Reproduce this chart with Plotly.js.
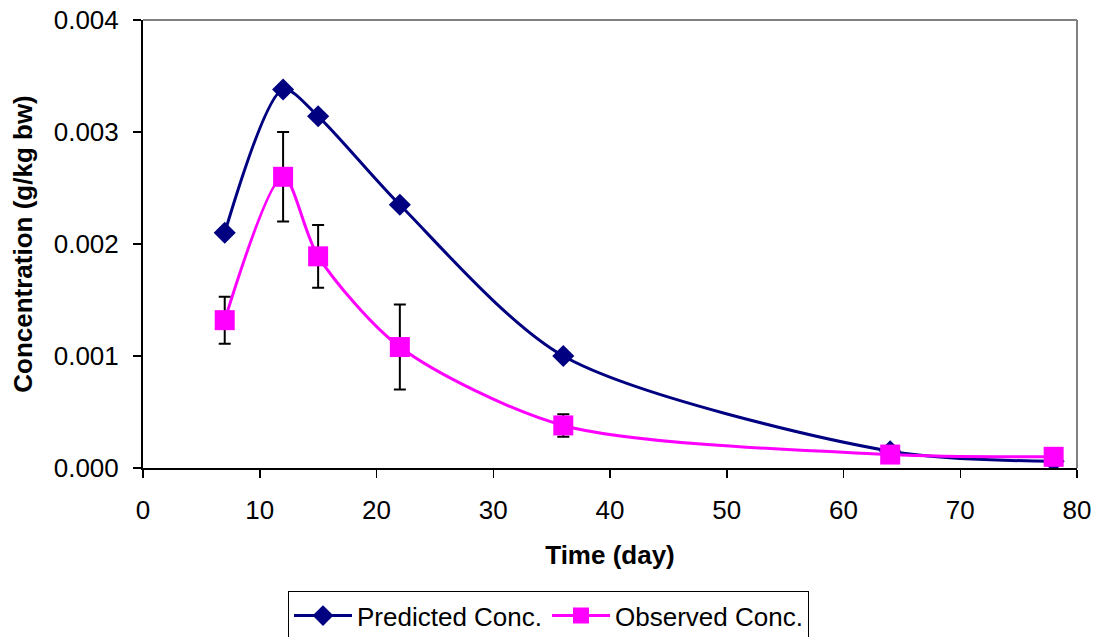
<!DOCTYPE html>
<html>
<head>
<meta charset="utf-8">
<script src="https://cdn.plot.ly/plotly-3.0.1.min.js"></script>
<style>html,body{margin:0;padding:0;background:#fff;}#chart{width:1097px;height:637px;}</style>
</head>
<body>
<div id="chart"></div>
<script>
// Data
const timeDays = [7, 12, 15, 22, 36, 64, 78];
const predictedConc = [0.00210, 0.00338, 0.00314, 0.00235, 0.00100, 0.00015, 0.00006];
const observedConc = [0.00132, 0.00260, 0.00189, 0.00108, 0.00038, 0.00012, 0.00010];
const observedErr = [0.00021, 0.00040, 0.00028, 0.00038, 0.00010, 0.00000, 0.00000];
const xTicks = [0, 10, 20, 30, 40, 50, 60, 70, 80];
const yTicks = [0, 0.001, 0.002, 0.003, 0.004];
const yTickText = ['0.000', '0.001', '0.002', '0.003', '0.004'];

const FONT = 'Liberation Sans, Arial, sans-serif';

const traces = [
  {
    x: timeDays, y: predictedConc, name: 'Predicted Conc.',
    type: 'scatter', mode: 'lines+markers',
    line: {color: '#000080', width: 3, shape: 'spline', smoothing: 0.8},
    marker: {symbol: 'diamond', size: 17, color: '#000080'}
  },
  {
    x: timeDays, y: observedConc, name: 'Observed Conc.',
    type: 'scatter', mode: 'lines+markers',
    line: {color: '#FF00FF', width: 3, shape: 'spline', smoothing: 0.8},
    marker: {symbol: 'square', size: 20, color: '#FF00FF'},
    error_y: {type: 'data', array: observedErr, visible: true, color: '#000000', thickness: 2, width: 6}
  }
];

const layout = {
  width: 1097, height: 637,
  margin: {l: 143, r: 20, t: 20, b: 169, autoexpand: false},
  paper_bgcolor: '#ffffff', plot_bgcolor: '#ffffff',
  font: {family: FONT, color: '#000000', size: 26},
  showlegend: true,
  legend: {
    orientation: 'h', x: (288 - 143) / 934, xanchor: 'left', y: -0.275, yanchor: 'top',
    bordercolor: '#000000', borderwidth: 1, bgcolor: '#ffffff',
    itemwidth: 58,
    font: {family: FONT, size: 26, color: '#000000'}
  },
  xaxis: {
    range: [0, 80], tickmode: 'array', tickvals: xTicks,
    showgrid: false, zeroline: false, automargin: false,
    showline: true, linecolor: '#000000', linewidth: 2,
    ticks: 'outside', ticklen: 8, tickwidth: 1.5, tickcolor: '#000000',
    ticklabelstandoff: 10,
    tickfont: {family: FONT, size: 26, color: '#000000'},
    title: {text: '<b>Time (day)</b>', font: {family: FONT, size: 26, color: '#000000'}, standoff: 22}
  },
  yaxis: {
    range: [0, 0.004], tickmode: 'array', tickvals: yTicks, ticktext: yTickText,
    showgrid: false, zeroline: false, automargin: false,
    showline: true, linecolor: '#000000', linewidth: 2,
    ticks: 'outside', ticklen: 8, tickwidth: 1.5, tickcolor: '#000000',
    ticklabelstandoff: 9,
    tickfont: {family: FONT, size: 26, color: '#000000'},
    title: {text: '<b>Concentration (g/kg bw)</b>', font: {family: FONT, size: 26, color: '#000000'}, standoff: 14}
  },
  shapes: [
    {type: 'line', xref: 'paper', yref: 'paper', x0: 0, x1: 1, y0: 1, y1: 1, line: {color: '#808080', width: 2}},
    {type: 'line', xref: 'paper', yref: 'paper', x0: 1, x1: 1, y0: 0, y1: 1, line: {color: '#808080', width: 2}}
  ]
};

Plotly.newPlot('chart', traces, layout, {displayModeBar: false, staticPlot: true});
</script>
</body>
</html>
